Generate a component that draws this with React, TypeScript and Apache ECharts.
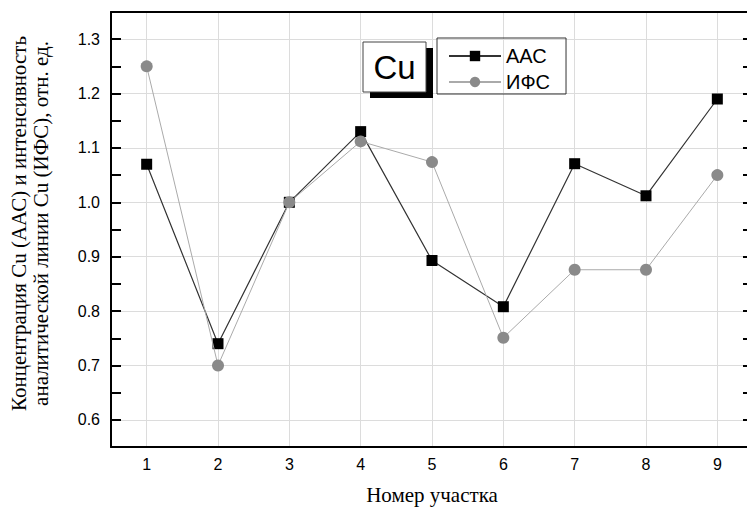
import React, { useEffect, useRef } from "react";
import * as echarts from "echarts";

const categories = ["1", "2", "3", "4", "5", "6", "7", "8", "9"];
const aasValues = [1.07, 0.74, 1.0, 1.13, 0.893, 0.808, 1.071, 1.012, 1.19];
const ifsValues = [1.25, 0.7, 1.0, 1.112, 1.074, 0.751, 0.876, 0.876, 1.05];
const seriesNames = ["ААС", "ИФС"];
const yMin = 0.55;
const yMax = 1.35;
const yStep = 0.05;

const yTitle = "Концентрация Cu (ААС) и интенсивность\nаналитической линии Cu (ИФС), отн. ед.";
const xTitle = "Номер участка";

export default function App() {
  const ref = useRef<HTMLDivElement>(null);
  useEffect(() => {
    if (!ref.current) return;
    const chart = echarts.init(ref.current, null, { renderer: "svg" });
    const sans = "'Liberation Sans', Arial, sans-serif";
    const serif = "'Liberation Serif', 'Times New Roman', serif";
    const axisLineStyle = { color: "#000", width: 2 };
    const labelFmt = (v: number) => {
      const t = v * 10;
      return Math.abs(t - Math.round(t)) < 1e-6 ? v.toFixed(1) : "";
    };
    chart.setOption({
      animation: false,
      backgroundColor: "#fff",
      grid: { left: 111, top: 12, right: -6, bottom: 61, containLabel: false, outerBoundsMode: "none" },
      legend: {
        data: seriesNames,
        orient: "vertical",
        left: 437,
        top: 38,
        padding: [8, 16, 2, 11],
        itemWidth: 52,
        itemHeight: 13,
        itemGap: 6,
        borderColor: "#333",
        borderWidth: 1,
        selectedMode: false,
        textStyle: { color: "#000", fontSize: 20, fontFamily: sans, lineHeight: 20 },
      },
      xAxis: [
        {
          type: "category",
          data: categories,
          boundaryGap: true,
          position: "bottom",
          axisLine: { lineStyle: axisLineStyle },
          axisTick: { inside: true, alignWithLabel: true, length: 9, lineStyle: { color: "#000", width: 2 } },
          axisLabel: { color: "#000", fontSize: 16, fontFamily: sans, margin: 9 },
          splitLine: { show: true, alignWithLabel: true, lineStyle: { color: "#dcdcdc", width: 1 } },
          name: xTitle,
          nameLocation: "middle",
          nameGap: 37,
          nameTextStyle: { color: "#000", fontSize: 21, fontFamily: serif },
        },
        {
          type: "category",
          data: categories,
          boundaryGap: true,
          position: "top",
          axisLine: { lineStyle: axisLineStyle },
          axisTick: { show: false },
          axisLabel: { show: false },
          splitLine: { show: false },
        },
      ],
      yAxis: [
        {
          type: "value",
          min: yMin,
          max: yMax,
          interval: yStep,
          position: "left",
          axisLine: { show: true, lineStyle: axisLineStyle },
          axisTick: { show: true, inside: true, length: 10, lineStyle: { color: "#000", width: 2 } },
          axisLabel: { color: "#000", fontSize: 16, fontFamily: sans, margin: 11, formatter: labelFmt },
          splitLine: { show: true, lineStyle: { color: ["rgba(0,0,0,0)", "#dcdcdc"], width: 1 } },
          name: yTitle,
          nameLocation: "middle",
          nameRotate: 90,
          nameGap: 59,
          nameTextStyle: { color: "#000", fontSize: 21, fontFamily: serif, lineHeight: 22, padding: [0, 0, 0, 12] },
        },
        {
          type: "value",
          min: yMin,
          max: yMax,
          interval: yStep,
          position: "right",
          axisLine: { show: true, lineStyle: axisLineStyle },
          axisTick: { show: true, inside: true, length: 10, lineStyle: { color: "#000", width: 2 } },
          axisLabel: { show: false },
          splitLine: { show: false },
        },
      ],
      graphic: [
        { type: "rect", shape: { x: 370, y: 48, width: 63, height: 50 }, style: { fill: "#000" }, z: 100 },
        { type: "rect", shape: { x: 363, y: 42, width: 63, height: 50 }, style: { fill: "#fff", stroke: "#444", lineWidth: 1 }, z: 101 },
        {
          type: "text",
          x: 394.5,
          y: 67,
          z: 102,
          style: { text: "Cu", fontSize: 33, fontFamily: sans, fill: "#000", align: "center", verticalAlign: "middle" },
        },
      ],
      series: [
        {
          name: seriesNames[0],
          type: "line",
          data: aasValues,
          symbol: "rect",
          symbolSize: 11,
          itemStyle: { color: "#000" },
          lineStyle: { color: "#333", width: 1.2 },
          z: 2,
        },
        {
          name: seriesNames[1],
          type: "line",
          data: ifsValues,
          symbol: "circle",
          symbolSize: 12,
          itemStyle: { color: "#8a8a8a" },
          lineStyle: { color: "#aaa", width: 1 },
          z: 3,
        },
      ],
    });
    return () => chart.dispose();
  }, []);
  return <div ref={ref} style={{ position: "absolute", left: 0, top: 0, width: 747, height: 508 }} />;
}
